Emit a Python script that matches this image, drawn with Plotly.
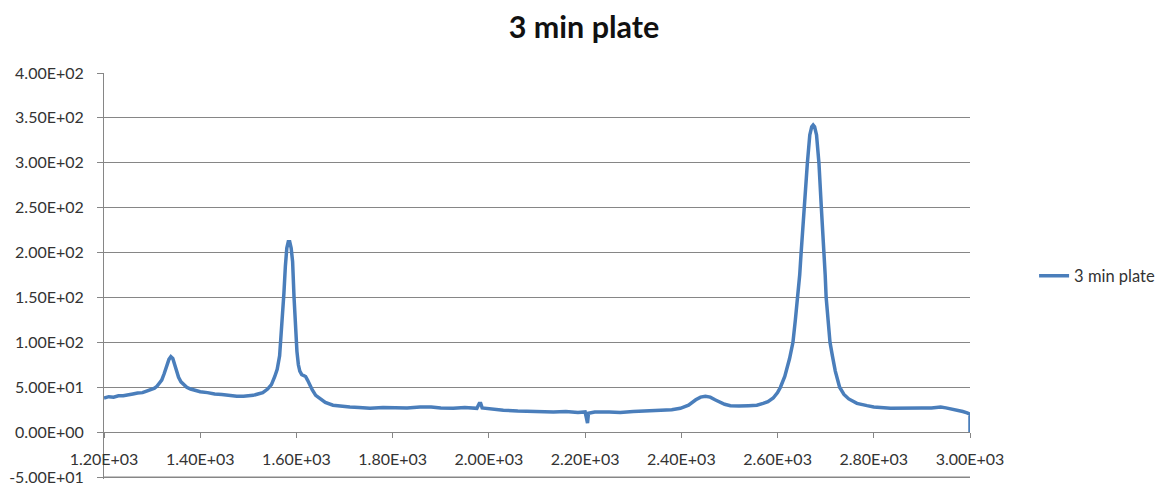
import plotly.graph_objects as go

series_name = "3 min plate"

wavenumber = [
    1200, 1210, 1220, 1230, 1240, 1250, 1260, 1270, 1280, 1290, 1300, 1305, 1310, 1315, 1320,
    1325, 1330, 1335, 1339, 1343, 1347, 1350, 1355, 1360, 1365, 1372, 1380, 1390, 1400, 1415,
    1430, 1445, 1460, 1476, 1490, 1500, 1510, 1520, 1530, 1540, 1548, 1555, 1560, 1565, 1570,
    1574, 1577, 1580, 1583, 1586, 1589, 1592, 1595, 1598, 1601, 1604, 1607, 1611, 1615, 1619,
    1623, 1628, 1633, 1640, 1649, 1660, 1676, 1690, 1711, 1730, 1753, 1780, 1800, 1830, 1857,
    1880, 1900, 1926, 1950, 1975, 1980, 1983, 1986, 2000, 2030, 2060, 2090, 2110, 2134, 2160,
    2185, 2200, 2203, 2205, 2207, 2220, 2250, 2273, 2300, 2330, 2360, 2380, 2398, 2415, 2430,
    2440, 2450, 2460, 2470, 2480, 2490, 2502, 2520, 2540, 2557, 2570, 2580, 2591, 2600, 2606,
    2615, 2625, 2632, 2637, 2642, 2646, 2649, 2652, 2655, 2658, 2662, 2667, 2671, 2674, 2677,
    2681, 2686, 2691, 2694, 2696, 2699, 2701, 2705, 2709, 2714, 2720, 2729, 2738, 2748, 2765,
    2786, 2800, 2835, 2860, 2880, 2900, 2920, 2939, 2950, 2970, 2985, 2994, 3000, 3000,
]

intensity = [
    38, 39.5, 39, 40.5, 40.5, 42, 42.5, 43.5, 44, 46, 47.5, 49, 51, 54, 58,
    65, 74, 81, 84, 82, 75, 69, 61, 56, 53, 50, 48, 46.5, 45, 44,
    42.5, 42, 41, 40, 40, 40.5, 41, 42.5, 44, 48, 53, 62, 70, 85, 120,
    155, 185, 205, 212, 212, 205, 190, 150, 115, 90, 75, 68, 64, 63, 62,
    58, 52, 47, 41, 37, 33, 30, 29, 28, 27.5, 26.5, 27.5, 27.5, 27, 28,
    28, 27, 26.5, 27.5, 26.5, 32, 32, 27, 26, 24.5, 23.5, 23, 23.5, 22.5, 23,
    22, 22.5, 12, 10, 21, 22.5, 22.5, 22, 23, 23.5, 24, 25, 26.5, 30, 36,
    39, 40, 39, 36, 33, 31, 29.5, 29, 29.5, 30, 32, 34, 38, 44, 50,
    62, 82, 100, 125, 150, 175, 200, 225, 250, 275, 300, 331, 340, 342, 340,
    331, 300, 250, 225, 200, 175, 150, 125, 100, 85, 68, 50, 42, 37, 32,
    29.5, 28, 26.5, 27, 26.5, 27, 27, 28, 27, 25, 23, 21.5, 20, 0,
]

x_ticks = [1200, 1400, 1600, 1800, 2000, 2200, 2400, 2600, 2800, 3000]
x_tick_labels = ["1.20E+03", "1.40E+03", "1.60E+03", "1.80E+03", "2.00E+03",
                 "2.20E+03", "2.40E+03", "2.60E+03", "2.80E+03", "3.00E+03"]
y_ticks = [-50, 0, 50, 100, 150, 200, 250, 300, 350, 400]
y_tick_labels = ["-5.00E+01", "0.00E+00", "5.00E+01", "1.00E+02", "1.50E+02",
                 "2.00E+02", "2.50E+02", "3.00E+02", "3.50E+02", "4.00E+02"]

y_min, y_max = -52.2, 400
grid_col = "#868686"
font_family = "Lato, 'Open Sans', sans-serif"

fig = go.Figure()
fig.add_trace(go.Scatter(
    x=wavenumber, y=intensity, mode="lines", name=series_name,
    line=dict(color="#4A7EBB", width=3.5),
))

# the lowest gridline (at the first y tick), which plotly omits near the plot edge
fig.add_shape(type="line", xref="paper", x0=0, x1=1, yref="y",
              y0=y_ticks[0], y1=y_ticks[0], layer="below",
              line=dict(color=grid_col, width=1))

fig.update_layout(
    width=1168, height=491,
    margin=dict(l=104, r=198, t=73, b=12, autoexpand=False),
    paper_bgcolor="white", plot_bgcolor="white",
    font=dict(family=font_family, size=16, color="#333333"),
    title=dict(text="<b>3 min plate</b>", x=0.5, xanchor="center",
               y=1 - 27 / 491, yanchor="middle", yref="container",
               font=dict(family=font_family, size=30.5, color="#111111")),
    showlegend=True,
    legend=dict(x=1.074, y=0.5, xanchor="left", yanchor="middle",
                font=dict(family=font_family, size=16.5, color="#333333"),
                bgcolor="rgba(0,0,0,0)"),
    xaxis=dict(
        range=[1200, 3000], tickmode="array", tickvals=x_ticks, ticktext=x_tick_labels,
        showgrid=False, zeroline=False, showline=True, linecolor=grid_col, linewidth=1,
        ticks="outside", ticklen=5, tickcolor=grid_col, automargin=False,
        anchor="free", position=(0 - y_min) / (y_max - y_min),
        ticklabelstandoff=8,
    ),
    yaxis=dict(
        range=[y_min, y_max], tickmode="array", tickvals=y_ticks, ticktext=y_tick_labels,
        showgrid=True, gridcolor=grid_col, gridwidth=1, zeroline=False,
        showline=True, linecolor=grid_col, linewidth=1, automargin=False,
        ticks="outside", ticklen=6, tickcolor=grid_col, ticklabelstandoff=10,
    ),
)

fig.write_html("out.html")
